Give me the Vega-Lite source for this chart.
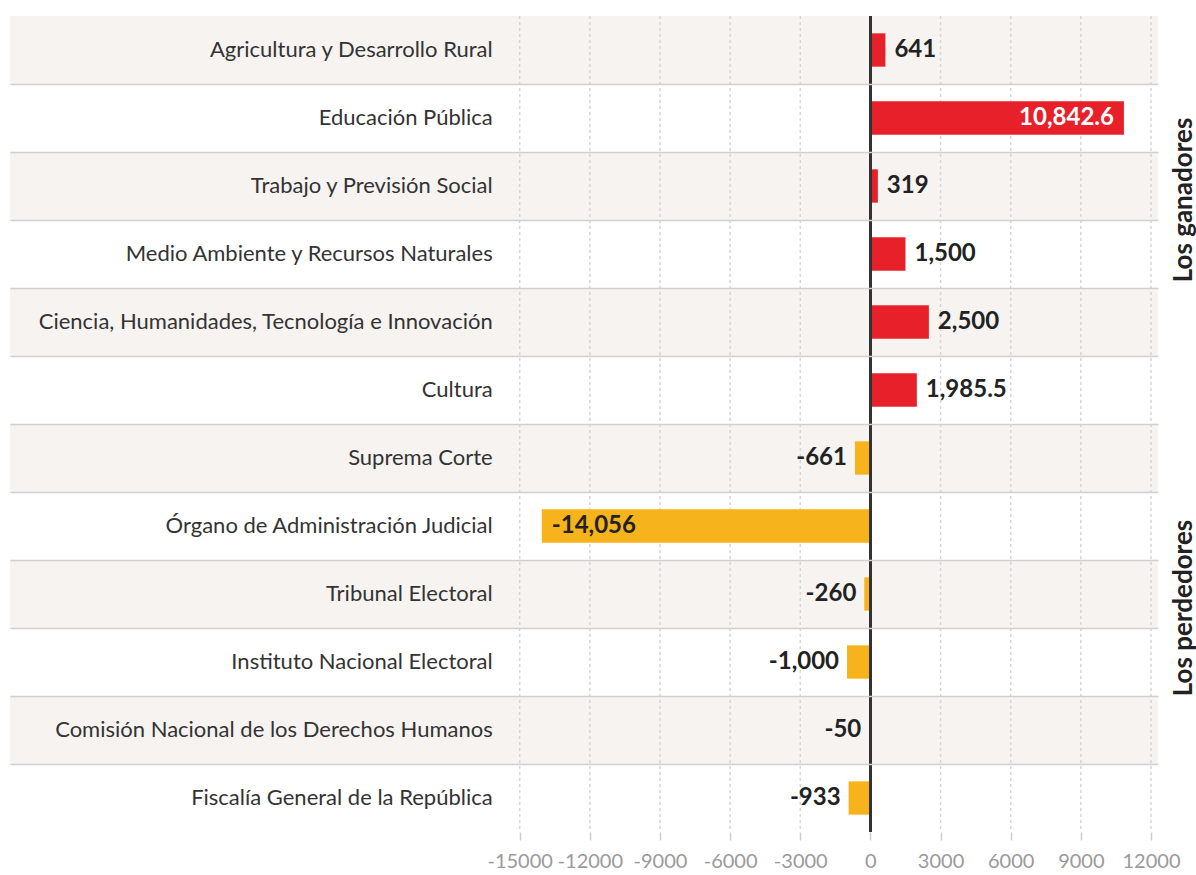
{
  "$schema": "https://vega.github.io/schema/vega-lite/v6.json",
  "width": 1148,
  "height": 816,
  "autosize": {"type": "none"},
  "padding": {"left": 10, "top": 16, "right": 38, "bottom": 43},
  "config": {
    "view": {"stroke": null},
    "font": "Lato",
    "locale": {"number": {"decimal": ".", "thousands": ",", "grouping": [3], "currency": ["$", ""], "minus": "-"}}
  },
  "datasets": {
    "presupuesto": [
      {"categoria": "Agricultura y Desarrollo Rural", "valor": 641, "grupo": "ganadores"},
      {"categoria": "Educación Pública", "valor": 10842.6, "grupo": "ganadores"},
      {"categoria": "Trabajo y Previsión Social", "valor": 319, "grupo": "ganadores"},
      {"categoria": "Medio Ambiente y Recursos Naturales", "valor": 1500, "grupo": "ganadores"},
      {"categoria": "Ciencia, Humanidades, Tecnología e Innovación", "valor": 2500, "grupo": "ganadores"},
      {"categoria": "Cultura", "valor": 1985.5, "grupo": "ganadores"},
      {"categoria": "Suprema Corte", "valor": -661, "grupo": "perdedores"},
      {"categoria": "Órgano de Administración Judicial", "valor": -14056, "grupo": "perdedores"},
      {"categoria": "Tribunal Electoral", "valor": -260, "grupo": "perdedores"},
      {"categoria": "Instituto Nacional Electoral", "valor": -1000, "grupo": "perdedores"},
      {"categoria": "Comisión Nacional de los Derechos Humanos", "valor": -50, "grupo": "perdedores"},
      {"categoria": "Fiscalía General de la República", "valor": -933, "grupo": "perdedores"}
    ],
    "marcas": [
      {"t": -15000}, {"t": -12000}, {"t": -9000}, {"t": -6000}, {"t": -3000},
      {"t": 3000}, {"t": 6000}, {"t": 9000}, {"t": 12000}
    ]
  },
  "data": {"name": "presupuesto"},
  "transform": [{"window": [{"op": "row_number", "as": "rn"}]}],
  "layer": [
    {
      "mark": {"type": "bar"},
      "encoding": {
        "y": {
          "field": "categoria", "type": "nominal", "sort": null,
          "scale": {"paddingInner": 0, "paddingOuter": 0},
          "axis": {
            "orient": "left", "title": null, "labels": false, "ticks": false, "domain": false,
            "grid": true, "bandPosition": 0, "gridColor": "#d0d0d0", "gridWidth": 1.5,
            "gridOpacity": {"condition": {"test": "datum.value == 'Agricultura y Desarrollo Rural'", "value": 0}, "value": 1},
            "zindex": 1
          }
        },
        "x": {
          "datum": -36800, "type": "quantitative",
          "scale": {"domain": [-36800, 12300], "nice": false, "zero": false},
          "axis": {
            "values": [-15000, -12000, -9000, -6000, -3000, 0, 3000, 6000, 9000, 12000],
            "format": "d", "title": null, "grid": false, "domain": false,
            "tickColor": "#cccccc", "tickSize": 8, "tickWidth": 1.5,
            "labelFont": "Lato", "labelFontSize": 20, "labelColor": "#9a9a9a",
            "labelPadding": 11, "labelOverlap": false, "labelFlush": false
          }
        },
        "x2": {"datum": 12300},
        "color": {"condition": {"test": "datum.rn % 2 == 1", "value": "#f6f3f1"}, "value": "#ffffff"}
      }
    },
    {
      "data": {"name": "marcas"},
      "mark": {"type": "rule", "color": "#d6d6d6", "strokeWidth": 1.5, "strokeDash": [3, 3]},
      "encoding": {
        "x": {"field": "t", "type": "quantitative"}
      }
    },
    {
      "mark": {"type": "bar", "height": {"band": 0.49}},
      "encoding": {
        "y": {"field": "categoria", "type": "nominal", "sort": null, "axis": null},
        "x": {"field": "valor", "type": "quantitative"},
        "color": {
          "field": "grupo", "type": "nominal",
          "scale": {"domain": ["ganadores", "perdedores"], "range": ["#e8202a", "#f6b31b"]},
          "legend": null
        }
      }
    },
    {
      "mark": {"type": "rule", "color": "#333333", "strokeWidth": 2.5},
      "encoding": {"x": {"datum": 0, "type": "quantitative"}}
    },
    {
      "mark": {"type": "text", "align": "right", "baseline": "middle", "dx": -27, "font": "Lato", "fontSize": 22, "color": "#333333"},
      "encoding": {
        "y": {
          "field": "categoria", "type": "nominal", "sort": null,
          "axis": {
            "orient": "right", "title": null, "domain": false, "ticks": false, "grid": false,
            "labelExpr": "datum.value == 'Trabajo y Previsión Social' ? 'Los ganadores' : datum.value == 'Tribunal Electoral' ? 'Los perdedores' : ''",
            "labelAngle": 270, "labelAlign": "center", "labelBaseline": "top",
            "labelPadding": 12, "labelOffset": 14, "labelFont": "Lato", "labelFontWeight": "bold",
            "labelFontSize": 26, "labelColor": "#222222", "labelOverlap": false, "labelLimit": 400, "labelBound": false
          }
        },
        "x": {"datum": -15000, "type": "quantitative"},
        "text": {"field": "categoria"}
      }
    },
    {
      "mark": {"type": "text", "align": "left", "baseline": "middle", "dx": 9, "font": "Lato", "fontSize": 24, "fontWeight": "bold", "color": "#222222"},
      "encoding": {
        "y": {"field": "categoria", "type": "nominal", "sort": null, "axis": null},
        "x": {"field": "valor", "type": "quantitative"},
        "text": {"condition": {"test": "datum.valor > 0 && datum.valor < 8000", "field": "valor", "format": ",.1~f"}, "value": ""}
      }
    },
    {
      "mark": {"type": "text", "align": "right", "baseline": "middle", "dx": -10, "font": "Lato", "fontSize": 24, "fontWeight": "bold", "color": "#ffffff"},
      "encoding": {
        "y": {"field": "categoria", "type": "nominal", "sort": null, "axis": null},
        "x": {"field": "valor", "type": "quantitative"},
        "text": {"condition": {"test": "datum.valor >= 8000", "field": "valor", "format": ",.1~f"}, "value": ""}
      }
    },
    {
      "mark": {"type": "text", "align": "right", "baseline": "middle", "dx": -8, "font": "Lato", "fontSize": 24, "fontWeight": "bold", "color": "#222222"},
      "encoding": {
        "y": {"field": "categoria", "type": "nominal", "sort": null, "axis": null},
        "x": {"field": "valor", "type": "quantitative"},
        "text": {"condition": {"test": "datum.valor < 0 && datum.valor > -8000", "field": "valor", "format": ",.1~f"}, "value": ""}
      }
    },
    {
      "mark": {"type": "text", "align": "left", "baseline": "middle", "dx": 10, "font": "Lato", "fontSize": 24, "fontWeight": "bold", "color": "#222222"},
      "encoding": {
        "y": {"field": "categoria", "type": "nominal", "sort": null, "axis": null},
        "x": {"field": "valor", "type": "quantitative"},
        "text": {"condition": {"test": "datum.valor <= -8000", "field": "valor", "format": ",.1~f"}, "value": ""}
      }
    }
  ],
  "resolve": {"axis": {"y": "independent"}}
}
